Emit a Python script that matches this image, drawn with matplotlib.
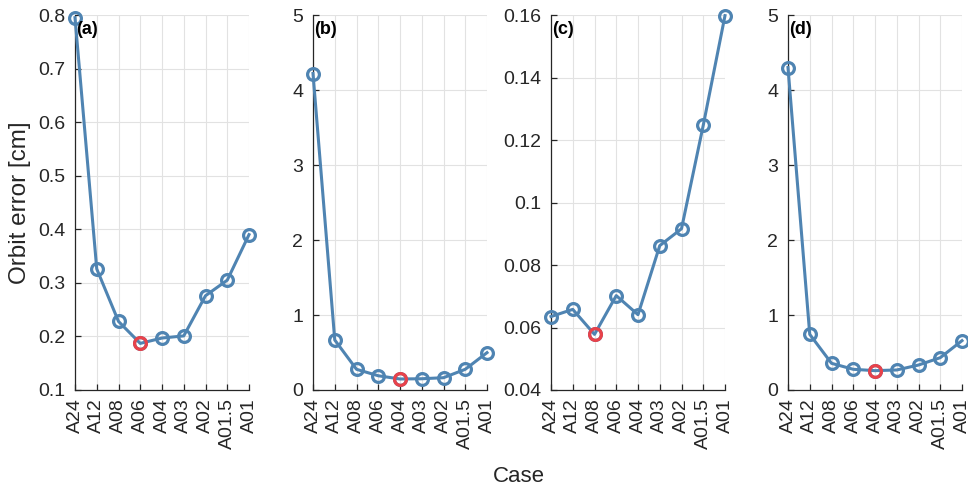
import numpy as np
import matplotlib.pyplot as plt

plt.rcParams['font.family'] = ['Liberation Sans', 'DejaVu Sans']

cases = ['A24', 'A12', 'A08', 'A06', 'A04', 'A03', 'A02', 'A01.5', 'A01']

err_a = [0.795, 0.326, 0.228, 0.187, 0.197, 0.201, 0.276, 0.305, 0.390]
err_b = [4.22, 0.667, 0.276, 0.19, 0.147, 0.150, 0.164, 0.276, 0.498]
err_c = [0.0635, 0.0658, 0.0578, 0.0702, 0.0641, 0.0862, 0.0916, 0.1247, 0.1598]
err_d = [4.30, 0.742, 0.356, 0.276, 0.258, 0.267, 0.333, 0.431, 0.658]

panels = [
    ('(a)', err_a, (0.1, 0.8), np.arange(0.1, 0.81, 0.1), ['0.1', '0.2', '0.3', '0.4', '0.5', '0.6', '0.7', '0.8']),
    ('(b)', err_b, (0, 5), np.arange(0, 6), ['0', '1', '2', '3', '4', '5']),
    ('(c)', err_c, (0.04, 0.16), np.arange(0.04, 0.161, 0.02), ['0.04', '0.06', '0.08', '0.1', '0.12', '0.14', '0.16']),
    ('(d)', err_d, (0, 5), np.arange(0, 6), ['0', '1', '2', '3', '4', '5']),
]

blue = '#4f84b2'
red = '#e8424a'
ink = '#262626'

fig = plt.figure(figsize=(9.68, 4.88), dpi=100)
lefts = [75, 313, 551, 788]
W, H = 968, 488

x = np.arange(len(cases))
for i, (tag, vals, ylim, yt, ytl) in enumerate(panels):
    ax = fig.add_axes([lefts[i] / W, (H - 390) / H, 174 / W, 375 / H])
    ax.plot(x, vals, '-o', color=blue, lw=2.2, ms=8.5, mfc='none', mew=2.3, clip_on=False, zorder=3)
    k = int(np.argmin(vals))
    ax.plot(x[k], vals[k], 'o', color=red, ms=8.5, mfc='none', mew=2.3, clip_on=False, zorder=4)
    ax.set_xlim(0, len(cases) - 1)
    ax.set_ylim(*ylim)
    ax.set_yticks(yt)
    ax.set_yticklabels(ytl)
    ax.set_xticks(x)
    ax.set_xticklabels(cases, rotation=90)
    ax.grid(True, color='#e2e2e2', lw=0.8)
    ax.set_axisbelow(True)
    ax.spines['top'].set_visible(False)
    ax.spines['right'].set_visible(False)
    for s in ('left', 'bottom'):
        ax.spines[s].set_color(ink)
        ax.spines[s].set_linewidth(0.9)
    ax.tick_params(direction='in', length=4, width=0.9, color=ink, labelcolor=ink, labelsize=14)
    ax.tick_params(axis='y', pad=7)
    ax.tick_params(axis='x', pad=6)
    ax.text(0.008, 0.985, tag, transform=ax.transAxes, fontsize=13, fontweight='bold',
            va='top', ha='left', color='black')
    if i == 0:
        ax.set_ylabel('Orbit error [cm]', fontsize=17.5, color=ink, labelpad=5)

fig.text(519 / W, 1 - 477 / H, 'Case', fontsize=16, color=ink, ha='center', va='center')

fig.savefig('out.png', dpi=100)
